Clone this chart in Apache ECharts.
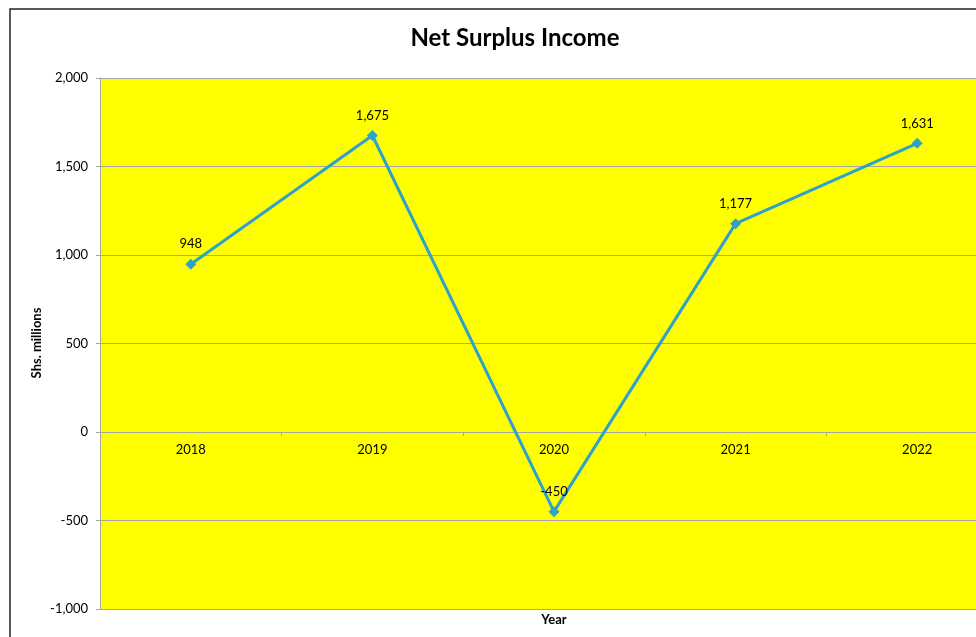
<!DOCTYPE html>
<html><head><meta charset="utf-8">
<script src="https://cdn.jsdelivr.net/npm/echarts@6/dist/echarts.min.js"></script>
<style>html,body{margin:0;padding:0;background:#fff;overflow:hidden;width:976px;height:637px}#c{width:1010px;height:637px}</style>
</head><body><div id="c"></div>
<script>
var years = ['2018','2019','2020','2021','2022'];
var netSurplus = [948, 1675, -450, 1177, 1631];
var yTicks = {min: -1000, max: 2000, interval: 500};

var FONT = 'Lato, "Open Sans", sans-serif';
var chart = echarts.init(document.getElementById('c'), null, {renderer: 'canvas'});
function fmt(v){ return Number(v).toLocaleString('en-US'); }
chart.setOption({
  backgroundColor: '#ffffff',
  animation: false,
  title: {
    text: 'Net Surplus Income', left: 510, top: 21, textAlign: 'center',
    textStyle: {fontFamily: FONT, fontSize: 24, fontWeight: 'bold', color: '#000'}
  },
  grid: {left: 100, top: 78, right: 2, bottom: 28, show: true, backgroundColor: '#ffff00', borderWidth: 0},
  xAxis: {
    type: 'category', data: years, boundaryGap: true,
    offset: -177,
    axisLine: {onZero: false, lineStyle: {color: '#a6a6a6', width: 1}},
    axisTick: {show: true, alignWithLabel: false, length: 4, inside: false, lineStyle: {color: '#a6a6a6'}},
    axisLabel: {color: '#000', fontFamily: FONT, fontSize: 13, margin: 11},
    splitLine: {show: false}
  },
  yAxis: {
    type: 'value', min: yTicks.min, max: yTicks.max, interval: yTicks.interval,
    axisLine: {show: true, lineStyle: {color: '#a6a6a6'}},
    axisTick: {show: true, length: 4, lineStyle: {color: '#a6a6a6'}},
    axisLabel: {color: '#000', fontFamily: FONT, fontSize: 13, margin: 12, formatter: fmt},
    splitLine: {show: true, lineStyle: {color: '#a6a6a6', width: 1}}
  },
  graphic: [
    {type: 'rect', shape: {x: 10, y: 9, width: 1100, height: 700}, style: {fill: 'none', stroke: '#222', lineWidth: 1.5}, z: 100, silent: true},
    {type: 'text', x: 37, y: 343, rotation: Math.PI/2, style: {text: 'Shs. millions', fontFamily: FONT, fontSize: 13, fontWeight: 'bold', fill: '#000', align: 'center', verticalAlign: 'middle'}},
    {type: 'text', x: 554, y: 620, style: {text: 'Year', fontFamily: FONT, fontSize: 13, fontWeight: 'bold', fill: '#000', align: 'center', verticalAlign: 'middle'}}
  ],
  series: [{
    type: 'line', data: netSurplus,
    symbol: 'diamond', symbolSize: 11,
    lineStyle: {color: '#2ea2ca', width: 3},
    itemStyle: {color: '#2ea2ca'},
    label: {show: true, position: 'top', distance: 8, color: '#000', fontFamily: FONT, fontSize: 13, formatter: function(p){ return fmt(p.value); }}
  }]
});
</script></body></html>
